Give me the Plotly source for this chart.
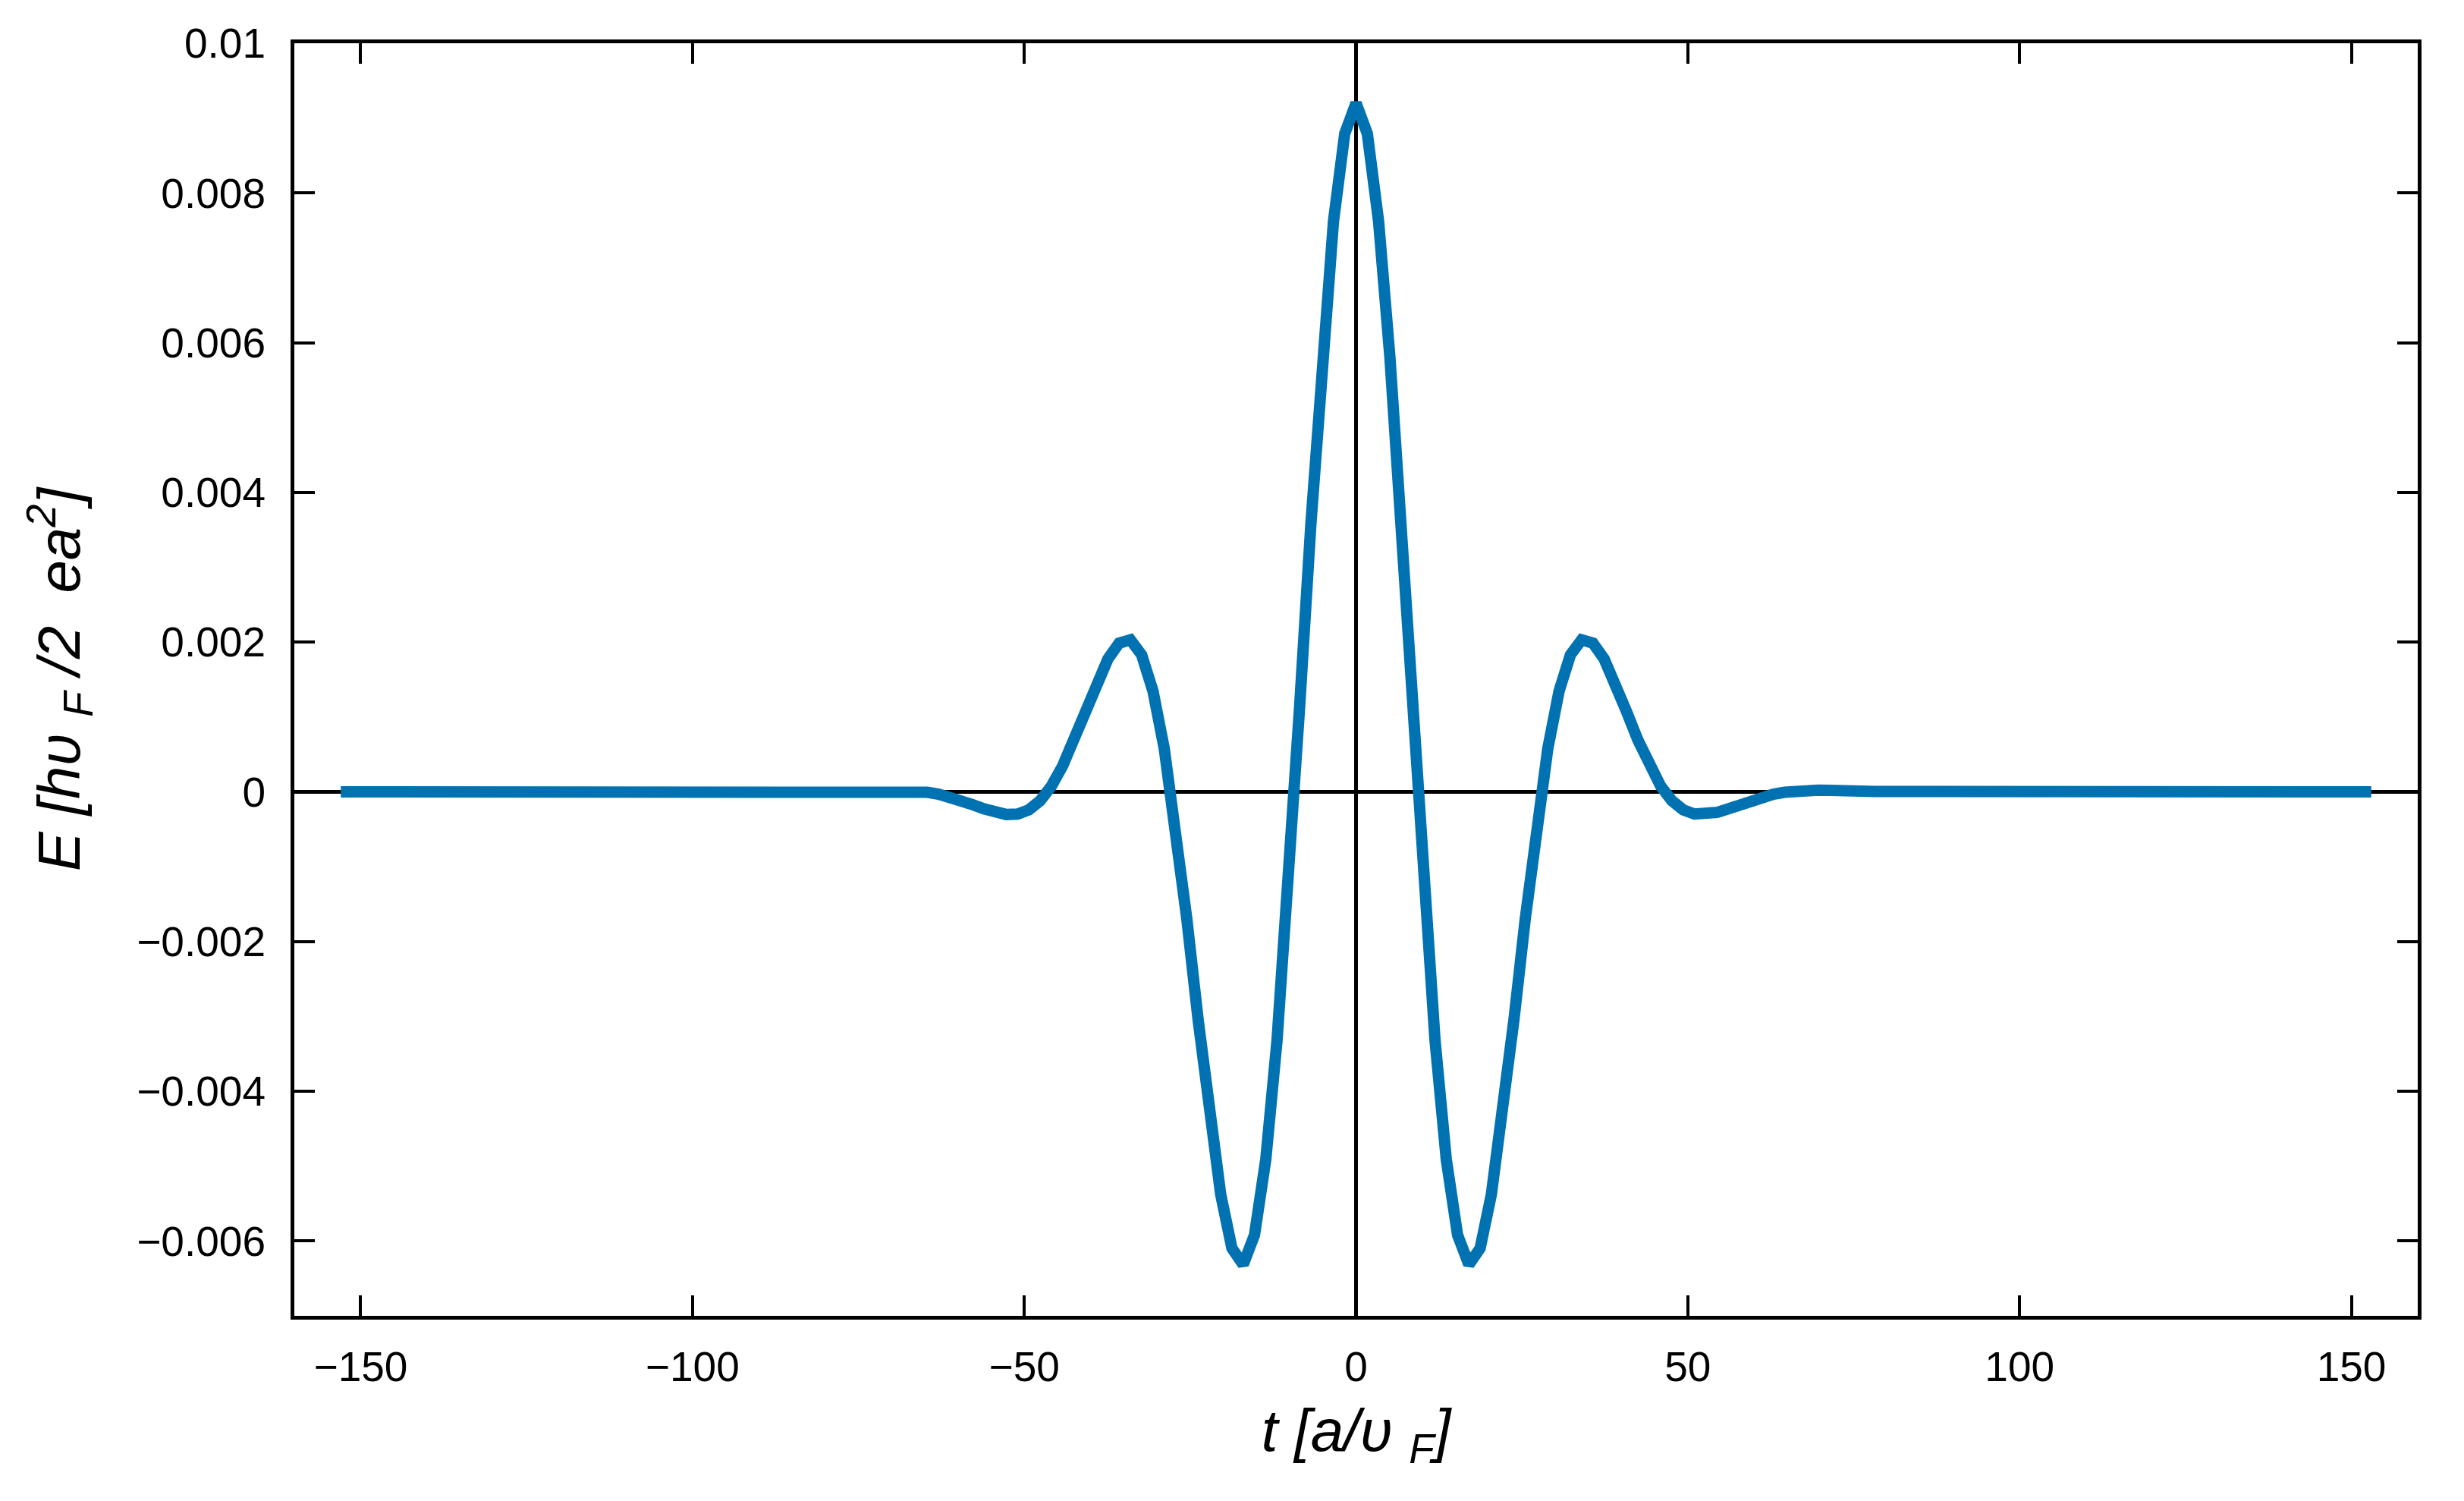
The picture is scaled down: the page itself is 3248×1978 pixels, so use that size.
import plotly.graph_objects as go

T = [
    -153.0,
    -78.2, -76.5, -74.8, -73.1, -71.4, -69.7, -68.0, -66.3, -64.6, -62.9,
    -61.2, -59.5, -57.8, -56.1, -54.4, -52.7, -51.0, -49.3, -47.6, -45.9,
    -44.2, -42.5, -40.8, -39.1, -37.4, -35.7, -34.0, -32.3, -30.6, -28.9,
    -27.2, -25.5, -23.8, -22.1, -20.4, -18.7, -17.0, -15.3, -13.6, -11.9,
    -10.2, -8.5, -6.8, -5.1, -3.4, -1.7,
    0.0,
    1.7, 3.4, 5.1, 6.8, 8.5, 10.2,
    11.9, 13.6, 15.3, 17.0, 18.7, 20.4, 22.1, 23.8, 25.5, 27.2,
    28.9, 30.6, 32.3, 34.0, 35.7, 37.4, 39.1, 40.8, 42.5, 44.2,
    45.9, 47.6, 49.3, 51.0, 52.7, 54.4, 56.1, 57.8, 59.5, 61.2,
    62.9, 64.6, 66.3, 68.0, 69.7, 71.4, 73.1, 74.8, 76.5, 78.2,
    153.0,
]

E = [
    0.0,
    0.0000055, 0.0000088, 0.0000127, 0.0000168, 0.0000200, 0.0000213, 0.0000188, 0.0000105, -0.0000058, -0.0000318,
    -0.0000689, -0.000116, -0.000170, -0.000227, -0.000275, -0.000303, -0.000297, -0.000240, -0.000118, 0.0000781,
    0.000349, 0.000687, 0.001065, 0.001445, 0.001774, 0.001987, 0.002031, 0.001828, 0.001346, 0.000577,
    -0.000458, -0.001698, -0.003043, -0.004303, -0.005376, -0.006097, -0.006315, -0.005920, -0.004910, -0.003315,
    -0.001233, 0.001138, 0.003584, 0.005813, 0.007620, 0.008793,
    0.009200,
    0.008793, 0.007620, 0.005813, 0.003584, 0.001138, -0.001233,
    -0.003315, -0.004910, -0.005920, -0.006315, -0.006097, -0.005376, -0.004303, -0.003043, -0.001698, -0.000458,
    0.000577, 0.001346, 0.001828, 0.002031, 0.001987, 0.001774, 0.001445, 0.001065, 0.000687, 0.000349,
    0.0000781, -0.000118, -0.000240, -0.000297, -0.000303, -0.000275, -0.000227, -0.000170, -0.000116, -0.0000689,
    -0.0000318, -0.0000058, 0.0000105, 0.0000188, 0.0000213, 0.0000200, 0.0000168, 0.0000127, 0.0000088, 0.0000055,
    0.0,
]

X_TICKS = [-150, -100, -50, 0, 50, 100, 150]
X_TICK_TEXT = ["\u2212150", "\u2212100", "\u221250", "0", "50", "100", "150"]
Y_TICKS = [-0.006, -0.004, -0.002, 0, 0.002, 0.004, 0.006, 0.008, 0.01]
Y_TICK_TEXT = ["\u22120.006", "\u22120.004", "\u22120.002", "0",
               "0.002", "0.004", "0.006", "0.008", "0.01"]

FONT = "Liberation Sans, Arial, Helvetica, sans-serif"
LINE_BLUE = "#0072B2"

fig = go.Figure()
fig.add_trace(go.Scatter(
    x=T, y=E, mode="lines",
    line=dict(color=LINE_BLUE, width=15),
    showlegend=False,
))

axis_common = dict(
    showline=True, linecolor="black", linewidth=5, mirror="ticks",
    ticks="inside", ticklen=27, tickwidth=4, tickcolor="black",
    showgrid=False,
    zeroline=True, zerolinecolor="black", zerolinewidth=5,
    tickfont=dict(family=FONT, size=55, color="black"),
)

fig.update_xaxes(
    range=[-160, 160],
    tickvals=X_TICKS, ticktext=X_TICK_TEXT,
    ticklabelstandoff=15,
    title=dict(
        text="<i>t [a/\u03c5 <sub>F</sub>]</i>",
        font=dict(family=FONT, size=78, color="black"),
        standoff=28,
    ),
    **axis_common,
)
fig.update_yaxes(
    range=[-0.007, 0.01],
    tickvals=Y_TICKS, ticktext=Y_TICK_TEXT,
    ticklabelstandoff=22,
    title=dict(
        text="<i>E [h\u03c5 <sub>F</sub> /2\u00a0\u00a0ea<sup>2</sup>]</i>",
        font=dict(family=FONT, size=78, color="black"),
        standoff=50,
    ),
    **axis_common,
)

fig.update_layout(
    width=3248, height=1978,
    margin=dict(l=388, r=61, t=57, b=244),
    paper_bgcolor="white",
    plot_bgcolor="white",
    font=dict(family=FONT, color="black"),
)

fig.write_html(
    "out.html",
    config={"displayModeBar": False},
    post_script="document.body.style.margin='0';",
)
